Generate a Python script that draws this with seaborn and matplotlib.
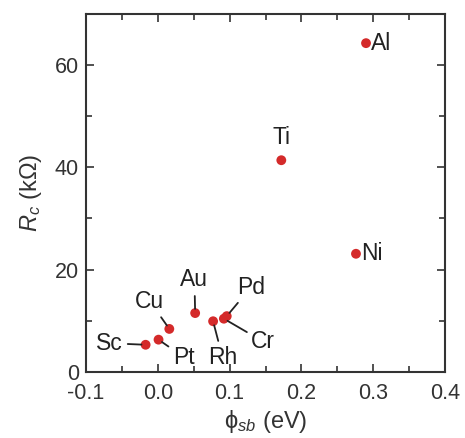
import matplotlib
matplotlib.use('Agg')
import matplotlib.pyplot as plt
import pandas as pd
import seaborn as sns
from matplotlib.ticker import MultipleLocator

# values
metals = ['Al', 'Ti', 'Ni', 'Sc', 'Pt', 'Cu', 'Au', 'Rh', 'Pd', 'Cr']
phi_sb = [0.290, 0.172, 0.276, -0.017, 0.001, 0.016, 0.052, 0.077, 0.096, 0.092]
r_c = [64.3, 41.4, 23.1, 5.3, 6.3, 8.4, 11.5, 9.9, 10.9, 10.4]

# label text positions (data units)
label_pos = {
    'Al': (0.297, 64.3, 'left', 'center'),
    'Ti': (0.172, 43.5, 'center', 'bottom'),
    'Ni': (0.283, 23.1, 'left', 'center'),
    'Sc': (-0.067, 5.6, 'center', 'center'),
    'Pt': (0.036, 2.9, 'center', 'center'),
    'Cu': (-0.011, 13.8, 'center', 'center'),
    'Au': (0.051, 18.0, 'center', 'center'),
    'Rh': (0.090, 2.9, 'center', 'center'),
    'Pd': (0.130, 16.6, 'center', 'center'),
    'Cr': (0.147, 5.9, 'center', 'center'),
}
leader = {'Sc', 'Pt', 'Cu', 'Au', 'Rh', 'Pd', 'Cr'}

df = pd.DataFrame({'metal': metals, 'phi': phi_sb, 'rc': r_c})

sns.set_style('ticks')
plt.rcParams['font.family'] = ['Liberation Sans', 'DejaVu Sans']
plt.rcParams['mathtext.fontset'] = 'custom'
plt.rcParams['mathtext.rm'] = 'Liberation Sans'
plt.rcParams['mathtext.it'] = 'Liberation Sans:italic'

fig = plt.figure(figsize=(4.65, 4.38), dpi=100)
ax = fig.add_axes([0.185, 0.151, 0.772, 0.817])

sns.scatterplot(data=df, x='phi', y='rc', ax=ax, color='#d42a2a',
                s=50, edgecolor='none', zorder=3)

for m, x, y in zip(metals, phi_sb, r_c):
    tx, ty, ha, va = label_pos[m]
    if m in leader:
        ax.annotate(m, xy=(x, y), xytext=(tx, ty), ha=ha, va=va,
                    fontsize=16.5, color='#222222',
                    arrowprops=dict(arrowstyle='-', color='#222222', lw=1.3,
                                    shrinkA=1, shrinkB=3))
    else:
        ax.text(tx, ty, m, ha=ha, va=va, fontsize=16.5, color='#222222')

ax.set_xlim(-0.1, 0.4)
ax.set_ylim(0, 70)
ax.xaxis.set_major_locator(MultipleLocator(0.1))
ax.xaxis.set_minor_locator(MultipleLocator(0.05))
ax.yaxis.set_major_locator(MultipleLocator(20))
ax.yaxis.set_minor_locator(MultipleLocator(10))
ax.set_xticks([-0.1, 0.0, 0.1, 0.2, 0.3, 0.4])
ax.set_xticklabels(['-0.1', '0.0', '0.1', '0.2', '0.3', '0.4'])

ax.tick_params(which='both', direction='in', top=True, right=True,
               labelsize=15.5, colors='#333333', width=1.2)
ax.tick_params(which='major', length=6)
ax.tick_params(axis='x', which='major', pad=8)
ax.tick_params(axis='y', which='major', pad=5)
ax.tick_params(which='minor', length=4)
for sp in ax.spines.values():
    sp.set_linewidth(1.5)
    sp.set_color('#333333')

ax.set_xlabel('ϕ$_{sb}$ (eV)', fontsize=17, color='#333333', labelpad=3)
ax.set_ylabel('$R_c$ (kΩ)', fontsize=17, color='#333333', labelpad=8)

fig.savefig('out.png', dpi=100)
